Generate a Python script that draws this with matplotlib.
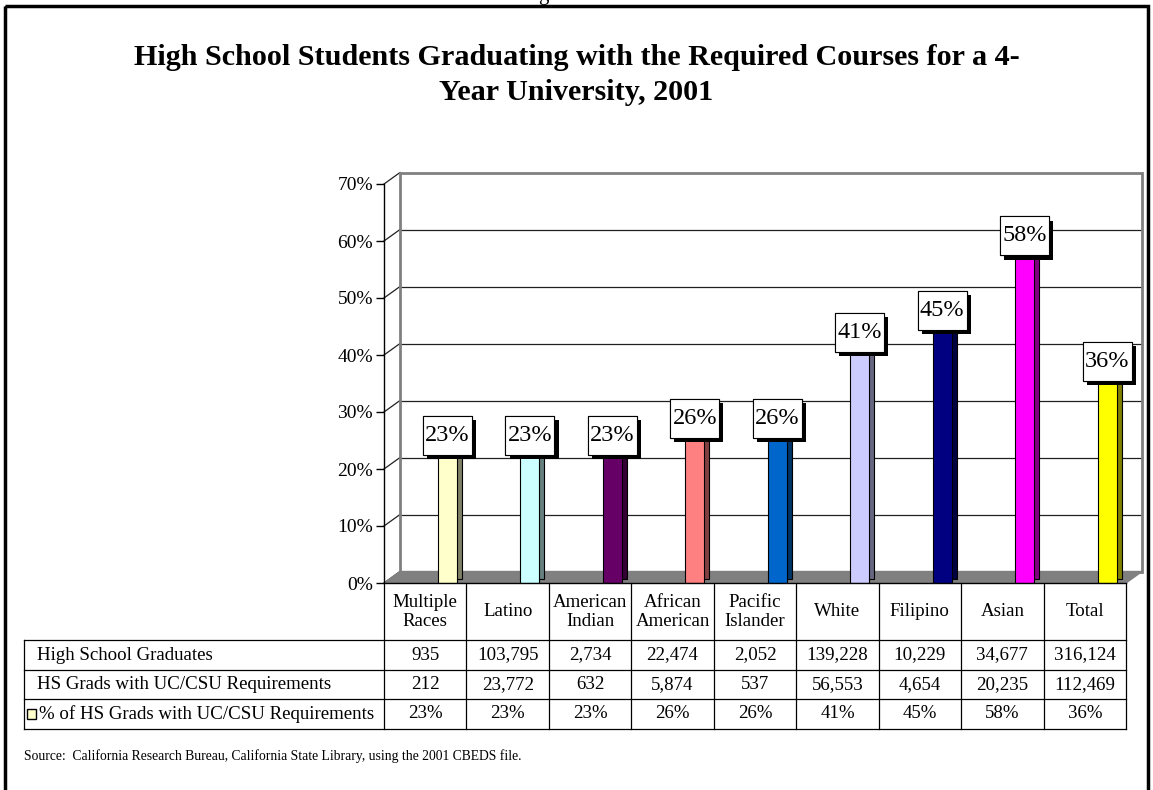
import matplotlib.pyplot as plt
import matplotlib.patheffects as pe
from matplotlib.patches import Rectangle, Polygon
from matplotlib.transforms import offset_copy
import numpy as np

plt.rcParams['font.family'] = ['Liberation Serif', 'DejaVu Serif']

# data
groups = ['Multiple\nRaces', 'Latino', 'American\nIndian', 'African\nAmerican',
          'Pacific\nIslander', 'White', 'Filipino', 'Asian', 'Total']
hs_grads = ['935', '103,795', '2,734', '22,474', '2,052', '139,228', '10,229', '34,677', '316,124']
hs_grads_req = ['212', '23,772', '632', '5,874', '537', '56,553', '4,654', '20,235', '112,469']
pct_req = [23, 23, 23, 26, 26, 41, 45, 58, 36]

row_labels = ['High School Graduates', 'HS Grads with UC/CSU Requirements',
              '% of HS Grads with UC/CSU Requirements']

front_colors = ['#FFFFCC', '#CCFFFF', '#660066', '#FF8080', '#0066CC',
                '#CCCCFF', '#000080', '#FF00FF', '#FFFF00']
side_colors = ['#808066', '#668080', '#330033', '#804040', '#003366',
               '#666680', '#000040', '#800080', '#808000']

W, H = 1153, 790
fig = plt.figure(figsize=(W / 100, H / 100), dpi=100)


def fx(px):
    return px / W


def fy(py):
    return 1 - py / H


# plot area (front edge of the 3d box)
left, right, top, bottom = 384, 1126, 184, 583
ax = fig.add_axes([fx(left), fy(bottom), (right - left) / W, (bottom - top) / H])
ax.set_xlim(-0.5, 8.5)
ax.set_ylim(0, 70)
ax.patch.set_alpha(0)

# pixels per data unit
ppx = (right - left) / 9
ppy = (bottom - top) / 70

# depth of the fake 3d box in data units
dx = 16 / ppx
dy = 11.5 / ppy

# back wall + gridlines
for k in range(10, 70, 10):
    ax.plot([-0.5 + dx, 8.5 + dx], [k + dy, k + dy], color='#202020', lw=0.9, clip_on=False, zorder=1)
for k in range(0, 80, 10):
    ax.plot([-0.5, -0.5 + dx], [k, k + dy], color='#202020', lw=0.9, clip_on=False, zorder=1)
ax.add_patch(Rectangle((-0.5 + dx, dy), 9, 70, fill=False, ec='#808080', lw=2,
                       clip_on=False, zorder=1))
# floor
ax.add_patch(Polygon([(-0.5, 0), (8.5, 0), (8.5 + dx, dy), (-0.5 + dx, dy)],
                     closed=True, fc='#808080', ec='#808080', lw=1, clip_on=False, zorder=2))

x = np.arange(len(pct_req)) + 0.27
bw = 0.23
depth_tr = offset_copy(ax.transData, fig=fig, x=5, y=4, units='dots')
ax.bar(x, pct_req, bw, color=side_colors, edgecolor='black', lw=0.8,
       transform=depth_tr, zorder=3)
ax.bar(x, pct_req, bw, color=front_colors, edgecolor='black', lw=0.8, zorder=4)

# value boxes with drop shadow
box_w, box_h = 49 / ppx, 39 / ppy
for xi, p in zip(x, pct_req):
    y0 = p - 3 / ppy
    box = Rectangle((xi - box_w / 2, y0), box_w, box_h, fc='white', ec='black', lw=0.8,
                    zorder=6, clip_on=False)
    box.set_path_effects([pe.withSimplePatchShadow(offset=(3, -3), shadow_rgbFace='black', alpha=1),
                          pe.Normal()])
    ax.add_patch(box)
    ax.text(xi, y0 + box_h / 2, f'{p}%', ha='center', va='center', fontsize=17.5, zorder=7)

ax.set_yticks(range(0, 80, 10))
ax.set_yticklabels([f'{v}%' for v in range(0, 80, 10)])
ax.set_xticks([])
ax.tick_params(axis='y', direction='out', length=6, width=1, pad=2, labelsize=14)
for s in ['top', 'right']:
    ax.spines[s].set_visible(False)
ax.spines['left'].set_linewidth(1)
ax.spines['bottom'].set_linewidth(1)
ax.spines['bottom'].set_zorder(5)

# overlay in pixel coords for title, table, frame
ov = fig.add_axes([0, 0, 1, 1], zorder=-1)
ov.set_xlim(0, W)
ov.set_ylim(H, 0)
ov.axis('off')

ov.add_patch(Rectangle((5, 6), 1143, 800, fill=False, ec='black', lw=2.5))
ov.text(543, 0, 'g', fontsize=15, ha='center', va='baseline', clip_on=False)

ov.text(W / 2, 75, 'High School Students Graduating with the Required Courses for a 4-\nYear University, 2001',
        ha='center', va='center', fontsize=21.7, fontweight='bold', linespacing=1.38)

# table
col_w = ppx
cx = [left + col_w * k for k in range(10)]
row_y = [640, 670, 699, 729]
tab_left = 24
tfs = 13.6

for c in cx:
    ov.plot([c, c], [bottom, row_y[-1]], color='black', lw=0.9)
for ry in row_y:
    ov.plot([tab_left, right], [ry, ry], color='black', lw=0.9)
ov.plot([tab_left, tab_left], [row_y[0], row_y[-1]], color='black', lw=0.9)

for i, g in enumerate(groups):
    ov.text((cx[i] + cx[i + 1]) / 2, 612, g, ha='center', va='center', fontsize=tfs, linespacing=1.1)

rows = [hs_grads, hs_grads_req, [f'{p}%' for p in pct_req]]
for r, vals in enumerate(rows):
    yc = (row_y[r] + row_y[r + 1]) / 2
    for i, v in enumerate(vals):
        ov.text((cx[i] + cx[i + 1]) / 2, yc, v, ha='center', va='center', fontsize=tfs)
    lx = 37 if r < 2 else 39
    ov.text(lx, yc, row_labels[r], ha='left', va='center', fontsize=tfs)

# legend key in last row
yc = (row_y[2] + row_y[3]) / 2
ov.add_patch(Rectangle((27, yc - 5), 9, 10, fc=front_colors[0], ec='black', lw=1))

ov.text(24, 756, 'Source:  California Research Bureau, California State Library, using the 2001 CBEDS file.',
        ha='left', va='center', fontsize=9.8)

fig.savefig('out.png', dpi=100)
